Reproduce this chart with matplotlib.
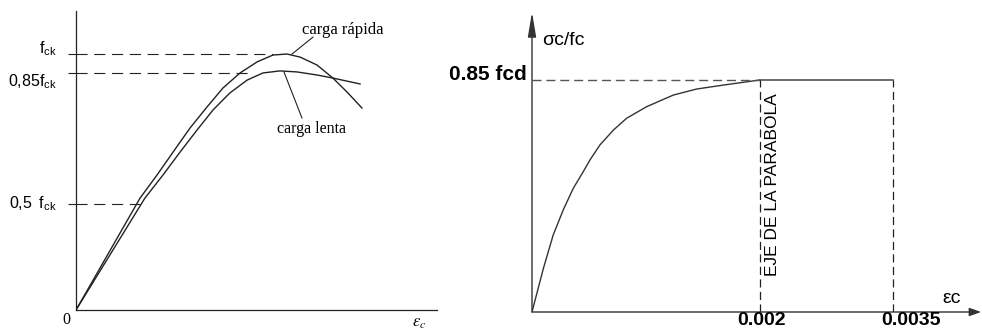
import matplotlib.pyplot as plt

plt.rcParams['font.family'] = ['Liberation Sans', 'DejaVu Sans']
plt.rcParams['mathtext.fontset'] = 'stix'

# left diagram: strain scaled so the peak is at 1, stress scaled so fck = 1
rapida_x = [0, 0.302, 0.382, 0.458, 0.538, 0.618, 0.693, 0.774, 0.854, 0.929, 0.995,
            1.057, 1.137, 1.212, 1.278, 1.349]
rapida_y = [0, 0.437, 0.527, 0.617, 0.711, 0.793, 0.867, 0.926, 0.969, 0.996, 1.0,
            0.988, 0.957, 0.906, 0.852, 0.789]
lenta_x = [0, 0.325, 0.410, 0.491, 0.571, 0.646, 0.726, 0.807, 0.882, 0.962, 1.042,
           1.137, 1.212, 1.340]
lenta_y = [0, 0.437, 0.527, 0.617, 0.703, 0.781, 0.848, 0.898, 0.926, 0.934, 0.930,
           0.918, 0.906, 0.883]
left_levels = [1.0, 0.926, 0.414]
left_labels = [r'$\mathregular{f_{ck}}$', r'$\mathregular{0{,}85f_{ck}}$', r'$\mathregular{0{,}5\ \ f_{ck}}$']
left_dash_end = [0.93, 0.83, 0.30]

# right diagram: parabola-rectangle (0.002 scaled to 1, 0.85 fcd scaled to 1)
parab_x = [0, 0.050, 0.093, 0.137, 0.181, 0.225, 0.254, 0.298, 0.357, 0.415, 0.503,
           0.620, 0.722, 0.839, 1.0]
parab_y = [0, 0.188, 0.332, 0.440, 0.533, 0.605, 0.655, 0.720, 0.784, 0.835, 0.885,
           0.935, 0.961, 0.978, 1.0]
strain_pos = [1.0, 1.583]
strain_labels = ['0.002', '0.0035']

fig = plt.figure(figsize=(9.82, 3.3), dpi=100)

# ---- left
ax1 = fig.add_axes([76 / 982, 20 / 330, 361 / 982, 299 / 330])
ax1.set_xlim(0, 1.703)
ax1.set_ylim(0, 1.168)
for s in ['top', 'right']:
    ax1.spines[s].set_visible(False)
for s in ['left', 'bottom']:
    ax1.spines[s].set_linewidth(0.9)
    ax1.spines[s].set_color('#222')
ax1.set_xticks([])
ax1.set_yticks(left_levels)
ax1.set_yticklabels([])
ax1.tick_params(axis='y', direction='out', length=6, width=0.8, color='#222')

ax1.plot(rapida_x, rapida_y, color='#222', lw=1.0)
ax1.plot(lenta_x, lenta_y, color='#222', lw=1.0)
for lev, xe in zip(left_levels, left_dash_end):
    ax1.plot([0, xe], [lev, lev], color='#222', lw=0.8, dashes=(10, 6))

offsets = [4, -6, 0]
for lev, lab, dy in zip(left_levels, left_labels, offsets):
    ax1.annotate(lab, xy=(0, lev), xycoords=('axes fraction', 'data'),
                 xytext=(-14, dy), textcoords='offset points',
                 ha='right', va='center', fontsize=11.5)

ax1.annotate('0', xy=(0, 0), xytext=(-7, -7), textcoords='offset points',
             ha='center', va='center', fontsize=11.5, family='Liberation Serif')
ax1.annotate(r'$\varepsilon_c$', xy=(1.585, 0), xytext=(0, -4), textcoords='offset points',
             ha='left', va='top', fontsize=12, annotation_clip=False)

ax1.plot([1.019, 1.118], [1.0, 1.066], color='#222', lw=0.8)
ax1.text(1.066, 1.094, 'carga rápida', family='Liberation Serif', fontsize=12,
         ha='left', va='center')
ax1.plot([0.981, 1.066], [0.930, 0.750], color='#222', lw=0.8)
ax1.text(0.948, 0.707, 'carga lenta', family='Liberation Serif', fontsize=11.5,
         ha='left', va='center')

# ---- right
ax2 = fig.add_axes([532 / 982, 18 / 330, 450 / 982, 300 / 330])
ax2.set_xlim(0, 1.974)
ax2.set_ylim(0, 1.293)
ax2.axis('off')
ax2.annotate('', xy=(0, 1), xytext=(0, 0), xycoords='axes fraction',
             arrowprops=dict(arrowstyle='-|>,head_length=1.5,head_width=0.25',
                             lw=1, color='#333', shrinkA=0, shrinkB=0))
ax2.annotate('', xy=(0.998, 0), xytext=(0, 0), xycoords='axes fraction',
             arrowprops=dict(arrowstyle='-|>,head_length=0.7,head_width=0.25',
                             lw=1, color='#333', shrinkA=0, shrinkB=0))

ax2.plot(parab_x, parab_y, color='#333', lw=1.0)
gray = '#555'
ax2.plot([0, strain_pos[0]], [1, 1], color=gray, lw=1, dashes=(6.5, 3.5))
ax2.plot([strain_pos[0], strain_pos[1]], [1, 1], color=gray, lw=1.2)
for xp in strain_pos:
    ax2.plot([xp, xp], [0, 1], color='#222', lw=0.9, dashes=(6.5, 3.5))

lab_dx = [1, 13]
for xp, lab, dx in zip(strain_pos, strain_labels, lab_dx):
    ax2.annotate(lab, xy=(xp, 0), xytext=(dx, 0), textcoords='offset points',
                 ha='center', va='top', fontsize=14, fontweight='bold',
                 annotation_clip=False)

ax2.annotate('0.85 fcd', xy=(0, 1), xytext=(-4, 4), textcoords='offset points',
             ha='right', va='center', fontsize=15, fontweight='bold',
             annotation_clip=False)
ax2.annotate('σc/fc', xy=(0, 1.172), xytext=(7, 0), textcoords='offset points',
             ha='left', va='center', fontsize=14)
ax2.annotate('εc', xy=(1.80, 0), xytext=(0, 10), textcoords='offset points',
             ha='left', va='center', fontsize=14)
ax2.text(1.053, 0.547, 'EJE DE LA PARABOLA', rotation=90, fontsize=12.5,
         ha='center', va='center')

fig.savefig('out.png', dpi=100)
